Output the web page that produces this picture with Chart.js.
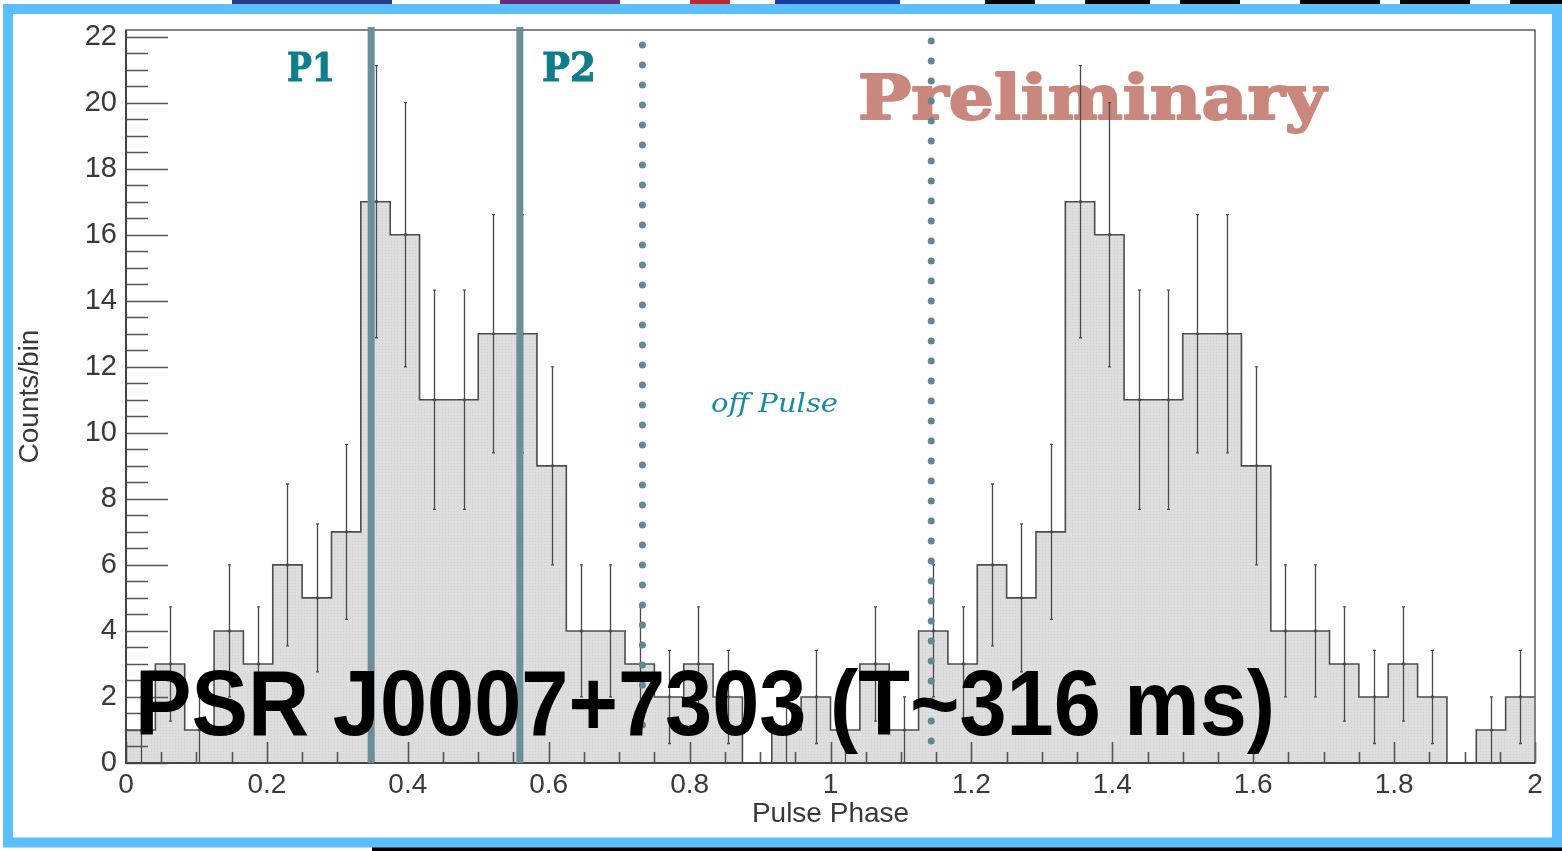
<!DOCTYPE html>
<html>
<head>
<meta charset="utf-8">
<script src="https://cdn.jsdelivr.net/npm/chart.js@4.4.0/dist/chart.umd.min.js"></script>
<style>
html,body{margin:0;padding:0;background:#ffffff;overflow:hidden;}
#wrap{position:relative;width:1562px;height:851px;}
canvas{display:block;}
</style>
</head>
<body>
<div id="wrap"><canvas id="c" width="1562" height="851"></canvas></div>
<script>
// ---------------- data ----------------
const binsPerPhase = 24;
const countsPhase1 = [1,3,1,4,3,6,5,7,17,16,11,11,13,13,9,4,4,3,2,3,2,0,1,2];
const countsPhase2 = [1,3,1,4,3,6,5,7,17,16,11,11,13,13,9,4,4,3,2,3,2,0,1,2];
const errorsPhase1 = [1,1.73,1,2,1.73,2.45,2.24,2.65,4.12,4,3.32,3.32,3.61,3.61,3,2,2,1.73,1.41,1.73,1.41,0,1,1.41];
const errorsPhase2 = [1,1.73,1,2,1.73,2.45,2.24,2.65,4.12,4,3.32,3.32,3.61,3.61,3,2,2,1.73,1.41,1.73,1.41,0,1,1.41];
const xTickValues = [0,0.2,0.4,0.6,0.8,1,1.2,1.4,1.6,1.8,2];
const yTickValues = [0,2,4,6,8,10,12,14,16,18,20,22];
const peakLines = [0.348, 0.559];
const peakLabels = ['P1', 'P2'];
const offPulseBounds = [0.733, 1.143];
const offPulseLabel = 'off Pulse';
const watermark = 'Preliminary';
const bigTitle = 'PSR J0007+7303 (T~316 ms)';
const xTitle = 'Pulse Phase';
const yTitle = 'Counts/bin';

// ---------------- derived tables ----------------
const allCounts = countsPhase1.concat(countsPhase2);
const allErrors = errorsPhase1.concat(errorsPhase2);
const nBins = allCounts.length;
const edges = [];
for (let i = 0; i <= nBins; i++) edges.push(i / binsPerPhase);
const stepData = allCounts.map((c, i) => ({x: edges[i], y: c}));
stepData.push({x: edges[nBins], y: allCounts[nBins - 1]});

// fill pattern (ROOT-like light grey dotted hatch)
const pc = document.createElement('canvas');
pc.width = 3; pc.height = 3;
const pctx = pc.getContext('2d');
pctx.fillStyle = '#dedede'; pctx.fillRect(0,0,3,3);
pctx.fillStyle = '#d0d0d0'; pctx.fillRect(1,1,1,1);
const fillPattern = document.getElementById('c').getContext('2d').createPattern(pc, 'repeat');

const AXIS_FONT = '"Liberation Sans", Arial, Helvetica, sans-serif';

function fitText(ctx, text, x, baseline, width, font, strokeW) {
  ctx.save();
  ctx.font = font;
  ctx.textAlign = 'left';
  ctx.textBaseline = 'alphabetic';
  const w = ctx.measureText(text).width;
  ctx.translate(x, baseline);
  ctx.scale(width / w, 1);
  ctx.fillText(text, 0, 0);
  if (strokeW) {
    ctx.strokeStyle = ctx.fillStyle;
    ctx.lineWidth = strokeW;
    ctx.lineJoin = 'round';
    ctx.strokeText(text, 0, 0);
  }
  ctx.restore();
}

const decor = {
  id: 'decor',
  beforeDatasetsDraw(chart) {
    const {ctx} = chart;
    ctx.save();
    ctx.fillStyle = '#c9877e';
    fitText(ctx, watermark, 858, 119, 468, 'bold 61px "DejaVu Serif"', 2);
    ctx.fillStyle = '#0f7d8b';
    fitText(ctx, peakLabels[0], 287, 81, 48, 'bold 39px "DejaVu Serif"', 1);
    fitText(ctx, peakLabels[1], 542, 81, 54, 'bold 39px "DejaVu Serif"', 1);
    ctx.fillStyle = '#1a8aa0';
    fitText(ctx, offPulseLabel, 711, 412, 127, 'italic 26px "DejaVu Serif"');
    ctx.restore();
  },
  afterDatasetsDraw(chart) {
    const {ctx, chartArea: ca, scales: {x, y}} = chart;
    ctx.save();
    // error bars
    ctx.strokeStyle = '#4a4a4a';
    ctx.fillStyle = '#4a4a4a';
    ctx.lineWidth = 1.3;
    for (let i = 0; i < nBins; i++) {
      const e = allErrors[i];
      if (!(e > 0)) continue;
      const cx = Math.round(x.getPixelForValue((edges[i] + edges[i + 1]) / 2)) + 0.5;
      const yt = y.getPixelForValue(allCounts[i] + e);
      const yb = y.getPixelForValue(Math.max(0, allCounts[i] - e));
      const yc = y.getPixelForValue(allCounts[i]);
      ctx.beginPath();
      ctx.moveTo(cx, yt); ctx.lineTo(cx, yb);
      ctx.moveTo(cx - 1.5, yt); ctx.lineTo(cx + 1.5, yt);
      ctx.moveTo(cx - 1.5, yb); ctx.lineTo(cx + 1.5, yb);
      ctx.stroke();
      ctx.beginPath();
      ctx.arc(cx, yc, 1.6, 0, Math.PI * 2);
      ctx.fill();
    }
    // axis ticks (ROOT style, inside the frame)
    ctx.strokeStyle = '#555555';
    ctx.lineWidth = 1.6;
    ctx.beginPath();
    for (let k = 0; k <= 44; k++) {
      const v = k * 0.5;
      const py = Math.round(y.getPixelForValue(v)) + 0.5;
      const len = (k % 4 === 0) ? 42 : 22;
      ctx.moveTo(ca.left, py); ctx.lineTo(ca.left + len, py);
    }
    for (let k = 0; k <= 40; k++) {
      const v = k * 0.05;
      const px = Math.round(x.getPixelForValue(v)) + 0.5;
      const len = (k % 4 === 0) ? 21 : 11;
      ctx.moveTo(px, ca.bottom); ctx.lineTo(px, ca.bottom - len);
    }
    ctx.stroke();
    // frame
    ctx.strokeStyle = '#666666';
    ctx.lineWidth = 1.6;
    ctx.strokeRect(ca.left, ca.top, ca.right - ca.left, ca.bottom - ca.top);
    ctx.strokeStyle = '#444444';
    ctx.lineWidth = 2;
    ctx.beginPath();
    ctx.moveTo(ca.left, ca.top); ctx.lineTo(ca.left, ca.bottom); ctx.lineTo(ca.right, ca.bottom);
    ctx.stroke();
    // P1 / P2 solid lines
    ctx.strokeStyle = '#6b8e98';
    ctx.lineWidth = 7;
    ctx.beginPath();
    peakLines.forEach(v => {
      const px = x.getPixelForValue(v);
      ctx.moveTo(px, ca.top - 3); ctx.lineTo(px, ca.bottom);
    });
    ctx.stroke();
    // off-pulse dotted lines
    ctx.strokeStyle = '#5f8893';
    ctx.lineWidth = 7;
    ctx.lineCap = 'round';
    ctx.setLineDash([0, 20]);
    const starts = [45, 41];
    offPulseBounds.forEach((v, j) => {
      const px = x.getPixelForValue(v);
      ctx.beginPath();
      ctx.moveTo(px, starts[j]); ctx.lineTo(px, ca.bottom - 20);
      ctx.stroke();
    });
    ctx.restore();
  },
  afterDraw(chart) {
    const {ctx} = chart;
    ctx.save();
    ctx.fillStyle = '#000000';
    fitText(ctx, bigTitle, 135, 735, 1140, 'bold 92px "Liberation Sans", Arial, sans-serif');
    // slide fragments outside the frame (cropped slide content)
    ctx.fillStyle = '#2a3a8a'; ctx.fillRect(232, 0, 160, 4);
    ctx.fillStyle = '#6a2a7a'; ctx.fillRect(500, 0, 120, 4);
    ctx.fillStyle = '#c0282a'; ctx.fillRect(690, 0, 40, 4);
    ctx.fillStyle = '#1c3c9c'; ctx.fillRect(775, 0, 125, 4);
    ctx.fillStyle = '#000000';
    [[985,1035],[1085,1150],[1180,1240],[1300,1380],[1400,1470],[1510,1562]].forEach(s => ctx.fillRect(s[0], 0, s[1]-s[0], 4));
    ctx.fillRect(372, 847, 1190, 4);
    // outer light-blue slide frame
    ctx.strokeStyle = '#5bbfff';
    ctx.lineWidth = 10;
    ctx.strokeRect(8, 9, 1549, 833.5);
    ctx.restore();
  }
};

new Chart(document.getElementById('c'), {
  type: 'line',
  data: {
    datasets: [{
      data: stepData,
      stepped: 'before',
      fill: 'origin',
      backgroundColor: fillPattern,
      borderColor: '#4d4d4d',
      borderWidth: 1.6,
      pointRadius: 0,
      tension: 0
    }]
  },
  options: {
    responsive: false,
    animation: false,
    devicePixelRatio: 1,
    layout: {padding: {left: 0, top: 30, right: 27, bottom: 0}},
    plugins: {legend: {display: false}, tooltip: {enabled: false}},
    scales: {
      x: {
        type: 'linear', min: 0, max: 2,
        grid: {display: false, drawTicks: false},
        border: {display: false},
        afterFit: s => { s.height = 88; },
        afterBuildTicks: s => { s.ticks = xTickValues.map(v => ({value: v})); },
        ticks: {
          color: '#3a3a3a', padding: 5, maxRotation: 0, autoSkip: false,
          font: {family: AXIS_FONT, size: 28},
          callback: v => String(+(+v).toFixed(1))
        },
        title: {display: true, text: xTitle, color: '#3a3a3a',
          font: {family: AXIS_FONT, size: 28}, padding: {top: 20, bottom: 20}}
      },
      y: {
        type: 'linear', min: 0, max: 22.2,
        grid: {display: false, drawTicks: false},
        border: {display: false},
        afterFit: s => { s.width = 126; },
        afterBuildTicks: s => { s.ticks = yTickValues.map(v => ({value: v})); },
        ticks: {
          color: '#3a3a3a', padding: 9, autoSkip: false,
          font: {family: AXIS_FONT, size: 29},
          callback: v => String(v)
        },
        title: {display: true, text: yTitle, color: '#3a3a3a',
          font: {family: AXIS_FONT, size: 28}, padding: {top: 13, bottom: 13}}
      }
    }
  },
  plugins: [decor]
});
</script>
</body>
</html>
